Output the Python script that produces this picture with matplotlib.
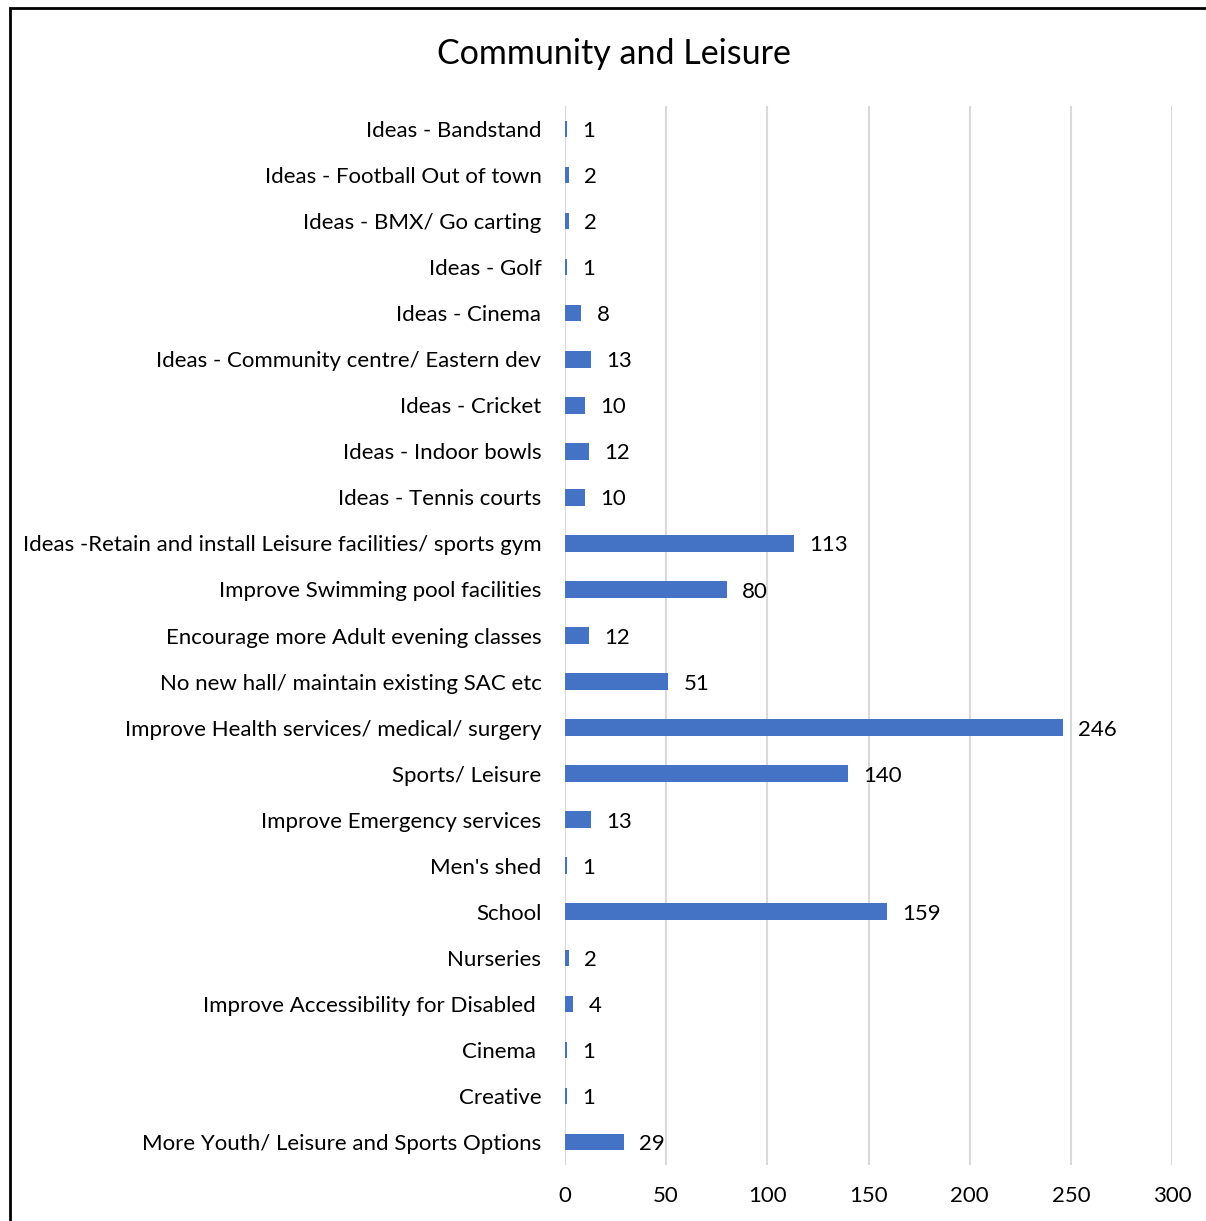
import matplotlib.pyplot as plt
from matplotlib.patches import Rectangle

# categories top to bottom, as in the chart
categories = [
    "Ideas - Bandstand",
    "Ideas - Football Out of town",
    "Ideas - BMX/ Go carting",
    "Ideas - Golf",
    "Ideas - Cinema",
    "Ideas - Community centre/ Eastern dev",
    "Ideas - Cricket",
    "Ideas - Indoor bowls",
    "Ideas - Tennis courts",
    "Ideas -Retain and install Leisure facilities/ sports gym",
    "Improve Swimming pool facilities",
    "Encourage more Adult evening classes",
    "No new hall/ maintain existing SAC etc",
    "Improve Health services/ medical/ surgery",
    "Sports/ Leisure",
    "Improve Emergency services",
    "Men's shed",
    "School",
    "Nurseries",
    "Improve Accessibility for Disabled ",
    "Cinema ",
    "Creative",
    "More Youth/ Leisure and Sports Options",
]
counts = [1, 2, 2, 1, 8, 13, 10, 12, 10, 113, 80, 12, 51, 246, 140, 13, 1, 159, 2, 4, 1, 1, 29]
x_ticks = [0, 50, 100, 150, 200, 250, 300]

plt.rcParams["font.family"] = ["Lato", "DejaVu Sans"]

fig = plt.figure(figsize=(12.06, 12.21), dpi=100)
ax = fig.add_axes([565 / 1206, 1 - 1165 / 1221, 607 / 1206, 1059 / 1221])

n = len(categories)
ypos = list(range(n))[::-1]
ax.barh(ypos, counts, height=0.36, color="#4472C4", zorder=3)

for y, v in zip(ypos, counts):
    ax.annotate(str(v), (v, y), xytext=(11, -1.5), textcoords="offset points",
                va="center", ha="left", fontsize=16, color="black")

ax.set_xlim(0, 300)
ax.set_ylim(-0.5, n - 0.5)
ax.set_xticks(x_ticks)
ax.set_xticklabels([str(t) for t in x_ticks], fontsize=16)
ax.set_yticks(ypos)
ax.set_yticklabels(categories, fontsize=16)
ax.tick_params(axis="both", length=0)
ax.tick_params(axis="y", pad=17)
ax.tick_params(axis="x", pad=15)
ax.grid(axis="x", color="#D9D9D9", linewidth=1.5, zorder=0)
for s in ax.spines.values():
    s.set_visible(False)

fig.text(0.509, 1 - 54 / 1221, "Community and Leisure", ha="center", va="center", fontsize=24.5)

# outer chart border (cut off at right and bottom)
fig.patches.append(Rectangle((10 / 1206, -0.05), 1.2, 1 - 8 / 1221 + 0.05,
                             transform=fig.transFigure, fill=False,
                             edgecolor="black", linewidth=2))

fig.savefig("out.png", dpi=100)
